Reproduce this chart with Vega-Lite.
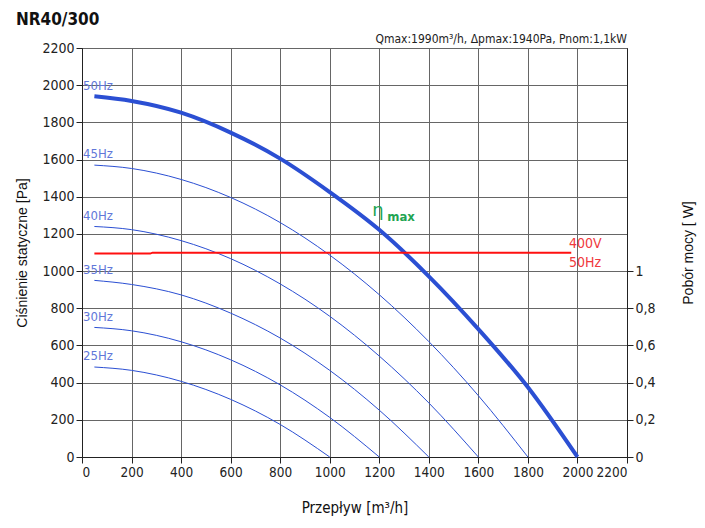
{
  "$schema": "https://vega.github.io/schema/vega-lite/v6.json",
  "width": 545,
  "height": 409,
  "autosize": {"type": "none"},
  "padding": {"left": 82, "top": 48, "right": 78, "bottom": 71},
  "background": "white",
  "title": {"text": "NR40/300", "anchor": "start", "fontSize": 17, "fontWeight": "bold", "font": "DejaVu Sans Condensed, Roboto, sans-serif", "color": "#111", "offset": 4},
  "config": {
    "font": "DejaVu Sans Condensed, Roboto, sans-serif",
    "view": {"stroke": "#222", "strokeWidth": 1},
    "axis": {
      "labelFont": "DejaVu Sans Condensed, Roboto, sans-serif", "labelFontSize": 14, "labelColor": "#222",
      "tickColor": "#222", "tickSize": 6, "labelPadding": 2, "labelOverlap": false,
      "domainColor": "#222", "gridColor": "#666", "gridWidth": 1,
      "titleFont": "Liberation Sans, Arial, sans-serif", "titleFontSize": 14, "titleColor": "#111", "titleFontWeight": "normal"
    }
  },
  "datasets": {
    "curves": [
      {"Q": 50, "p": 1940, "s": "50Hz"}, {"Q": 200, "p": 1915, "s": "50Hz"}, {"Q": 400, "p": 1852, "s": "50Hz"}, {"Q": 600, "p": 1745, "s": "50Hz"}, {"Q": 800, "p": 1605, "s": "50Hz"}, {"Q": 1000, "p": 1425, "s": "50Hz"}, {"Q": 1200, "p": 1222, "s": "50Hz"}, {"Q": 1400, "p": 972, "s": "50Hz"}, {"Q": 1600, "p": 688, "s": "50Hz"}, {"Q": 1800, "p": 375, "s": "50Hz"}, {"Q": 2000, "p": 0, "s": "50Hz"},
      {"Q": 50, "p": 1570, "s": "45Hz"}, {"Q": 200, "p": 1552, "s": "45Hz"}, {"Q": 400, "p": 1493, "s": "45Hz"}, {"Q": 600, "p": 1396, "s": "45Hz"}, {"Q": 800, "p": 1261, "s": "45Hz"}, {"Q": 1000, "p": 1086, "s": "45Hz"}, {"Q": 1200, "p": 873, "s": "45Hz"}, {"Q": 1400, "p": 621, "s": "45Hz"}, {"Q": 1600, "p": 330, "s": "45Hz"}, {"Q": 1800, "p": 0, "s": "45Hz"},
      {"Q": 50, "p": 1240, "s": "40Hz"}, {"Q": 200, "p": 1223, "s": "40Hz"}, {"Q": 400, "p": 1164, "s": "40Hz"}, {"Q": 600, "p": 1067, "s": "40Hz"}, {"Q": 800, "p": 931, "s": "40Hz"}, {"Q": 1000, "p": 757, "s": "40Hz"}, {"Q": 1200, "p": 543, "s": "40Hz"}, {"Q": 1400, "p": 291, "s": "40Hz"}, {"Q": 1600, "p": 0, "s": "40Hz"},
      {"Q": 50, "p": 950, "s": "35Hz"}, {"Q": 200, "p": 928, "s": "35Hz"}, {"Q": 400, "p": 872, "s": "35Hz"}, {"Q": 600, "p": 774, "s": "35Hz"}, {"Q": 800, "p": 640, "s": "35Hz"}, {"Q": 1000, "p": 466, "s": "35Hz"}, {"Q": 1200, "p": 252, "s": "35Hz"}, {"Q": 1400, "p": 0, "s": "35Hz"},
      {"Q": 50, "p": 697, "s": "30Hz"}, {"Q": 200, "p": 679, "s": "30Hz"}, {"Q": 400, "p": 620, "s": "30Hz"}, {"Q": 600, "p": 523, "s": "30Hz"}, {"Q": 800, "p": 388, "s": "30Hz"}, {"Q": 1000, "p": 213, "s": "30Hz"}, {"Q": 1200, "p": 0, "s": "30Hz"},
      {"Q": 50, "p": 484, "s": "25Hz"}, {"Q": 200, "p": 466, "s": "25Hz"}, {"Q": 400, "p": 407, "s": "25Hz"}, {"Q": 600, "p": 310, "s": "25Hz"}, {"Q": 800, "p": 175, "s": "25Hz"}, {"Q": 1000, "p": 0, "s": "25Hz"}
    ],
    "hzlabels": [
      {"Q": 0, "p": 1996, "t": "50Hz"}, {"Q": 0, "p": 1628, "t": "45Hz"}, {"Q": 0, "p": 1298, "t": "40Hz"},
      {"Q": 0, "p": 1006, "t": "35Hz"}, {"Q": 0, "p": 755, "t": "30Hz"}, {"Q": 0, "p": 545, "t": "25Hz"}
    ],
    "power": [
      {"Q": 50, "P": 1.094}, {"Q": 275, "P": 1.094}, {"Q": 285, "P": 1.099}, {"Q": 1975, "P": 1.099}
    ],
    "redlabels": [
      {"Q": 1966, "p": 1146, "t": "400V"}, {"Q": 1966, "p": 1044, "t": "50Hz"}
    ]
  },
  "layer": [
    {
      "encoding": {
        "x": {"field": "Q", "type": "quantitative", "scale": {"domain": [0, 2200], "nice": false},
              "axis": {"values": [0, 200, 400, 600, 800, 1000, 1200, 1400, 1600, 1800, 2000, 2200], "labelFontSize": 13.5, "title": "Przepływ [m³/h]", "titleFont": "DejaVu Sans Condensed, Roboto, sans-serif", "titleFontSize": 15, "titlePadding": 22, "format": "d"}},
        "y": {"field": "p", "type": "quantitative", "scale": {"domain": [0, 2200], "nice": false},
              "axis": {"values": [0, 200, 400, 600, 800, 1000, 1200, 1400, 1600, 1800, 2000, 2200], "tickCount": 12, "title": "Ciśnienie statyczne [Pa]", "titlePadding": 12, "format": "d"}}
      },
      "layer": [
        {
          "data": {"name": "curves"},
          "transform": [{"filter": "datum.s !== '50Hz'"}],
          "mark": {"type": "line", "interpolate": "monotone", "color": "#2b4fd3", "strokeWidth": 1},
          "encoding": {"detail": {"field": "s"}}
        },
        {
          "data": {"name": "curves"},
          "transform": [{"filter": "datum.s === '50Hz'"}],
          "mark": {"type": "line", "interpolate": "monotone", "color": "#2b4fd3", "strokeWidth": 4},
          "encoding": {}
        },
        {
          "data": {"name": "hzlabels"},
          "mark": {"type": "text", "align": "left", "baseline": "middle", "dx": 1, "fontSize": 13, "color": "#6177d9"},
          "encoding": {"text": {"field": "t"}}
        },
        {
          "data": {"name": "redlabels"},
          "mark": {"type": "text", "align": "left", "baseline": "middle", "fontSize": 14, "color": "#f0393d"},
          "encoding": {"text": {"field": "t"}}
        },
        {
          "data": {"values": [{"Q": 1195, "p": 1325, "t": "η"}]},
          "mark": {"type": "text", "align": "center", "baseline": "middle", "fontSize": 18, "font": "DejaVu Sans, sans-serif", "color": "#22a452"},
          "encoding": {"text": {"field": "t"}}
        },
        {
          "data": {"values": [{"Q": 1232, "p": 1291, "t": "max"}]},
          "mark": {"type": "text", "align": "left", "baseline": "middle", "fontSize": 13, "fontWeight": "bold", "color": "#22a452"},
          "encoding": {"text": {"field": "t"}}
        },
        {
          "data": {"values": [{"Q": 2200, "p": 2200, "t": "Qmax:1990m³/h, Δpmax:1940Pa, Pnom:1,1kW"}]},
          "mark": {"type": "text", "align": "right", "baseline": "bottom", "dy": -2, "fontSize": 12, "color": "#222"},
          "encoding": {"text": {"field": "t"}}
        }
      ]
    },
    {
      "data": {"name": "power"},
      "mark": {"type": "line", "color": "#ff1010", "strokeWidth": 2},
      "encoding": {
        "x": {"field": "Q", "type": "quantitative"},
        "y": {"field": "P", "type": "quantitative", "scale": {"domain": [0, 2.2], "nice": false},
              "axis": {"orient": "right", "values": [0, 0.2, 0.4, 0.6, 0.8, 1], "grid": false, "title": "Pobór mocy [ W]", "titleAngle": 270, "titlePadding": 40,
                       "labelExpr": "replace(format(datum.value, '~g'), '.', ',')"}}
      }
    }
  ],
  "resolve": {"scale": {"y": "independent"}, "axis": {"y": "independent"}}
}
